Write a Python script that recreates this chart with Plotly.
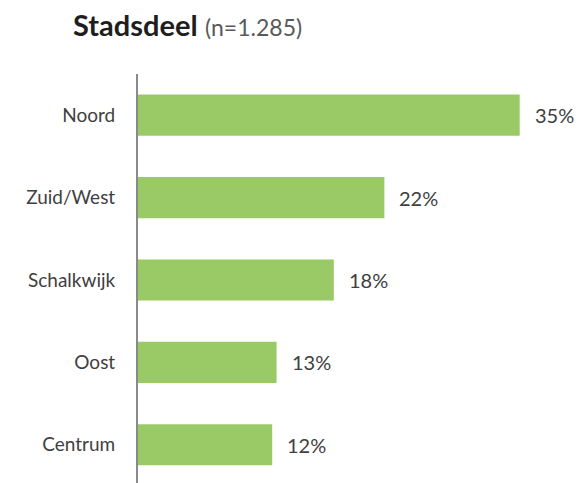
import plotly.graph_objects as go

categories = ["Noord", "Zuid/West", "Schalkwijk", "Oost", "Centrum"]
values = [34.7, 22.4, 17.8, 12.6, 12.2]
value_labels = ["35%", "22%", "18%", "13%", "12%"]
title_main = "Stadsdeel"
title_sub = "(n=1.285)"

FONT = "Lato"
TEXT_COLOR = "#404040"
BAR_COLOR = "#9ACA66"

fig = go.Figure()
fig.add_trace(go.Bar(
    x=values,
    y=categories,
    orientation="h",
    marker=dict(color=BAR_COLOR, line=dict(width=0)),
    hoverinfo="skip",
))

for cat, v, lab in zip(categories, values, value_labels):
    fig.add_annotation(
        x=v, y=cat, xref="x", yref="y",
        text=lab, showarrow=False,
        xanchor="left", yanchor="middle", xshift=13,
        font=dict(family=FONT, size=20, color=TEXT_COLOR),
    )

fig.update_layout(
    width=578, height=483,
    margin=dict(l=138, r=0, t=74, b=0),
    paper_bgcolor="white", plot_bgcolor="white",
    bargap=0.5,
    showlegend=False,
    title=dict(
        text=f"<b>{title_main}</b> <span style='font-size:23px;color:#595959'>{title_sub}</span>",
        font=dict(family=FONT, size=29, color="#1e1e1e"),
        xref="container", yref="container",
        x=73 / 578, xanchor="left",
        y=1 - 26 / 483, yanchor="middle",
    ),
    xaxis=dict(
        range=[0, 40],
        showticklabels=False, showgrid=False, zeroline=False, showline=False,
        ticks="",
    ),
    yaxis=dict(
        type="category",
        categoryorder="array", categoryarray=categories,
        range=[4.464, -0.5],
        showgrid=False, zeroline=False,
        showline=True, linecolor="#8a8a8a", linewidth=2,
        ticks="", ticklabelstandoff=17,
        tickfont=dict(family=FONT, size=19, color=TEXT_COLOR),
    ),
)

fig.write_html(
    "out.html",
    config={"displayModeBar": False},
    post_script="document.body.style.margin='0';document.body.style.padding='0';",
)
